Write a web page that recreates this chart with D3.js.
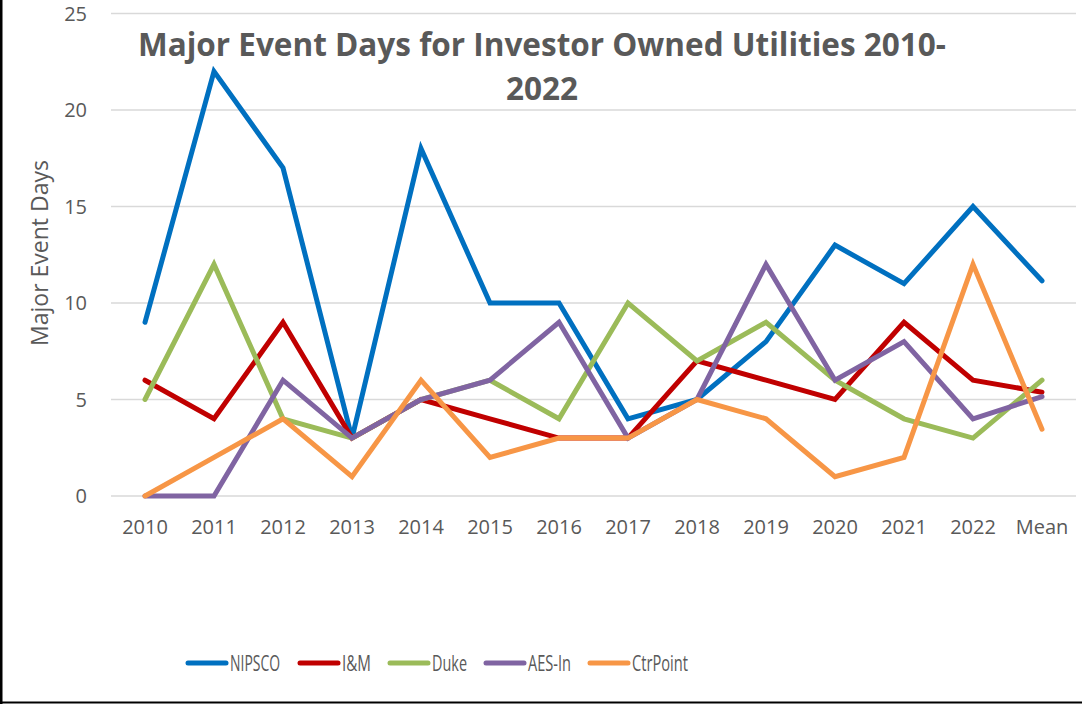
<!DOCTYPE html>
<html>
<head>
<meta charset="utf-8">
<script src="https://cdn.jsdelivr.net/npm/d3@7"></script>
<style>
  body { margin: 0; background: #fff; }
  svg { display: block; }
</style>
</head>
<body>
<div id="chart"></div>
<script>
// categories and series
var years = ["2010", "2011", "2012", "2013", "2014", "2015", "2016", "2017", "2018", "2019", "2020", "2021", "2022", "Mean"];
var seriesNames = ["NIPSCO", "I&M", "Duke", "AES-In", "CtrPoint"];
var nipsco   = [9, 22, 17, 3, 18, 10, 10, 4, 5, 8, 13, 11, 15, 11.15];
var im       = [6, 4, 9, 3, 5, 4, 3, 3, 7, 6, 5, 9, 6, 5.38];
var duke     = [5, 12, 4, 3, 5, 6, 4, 10, 7, 9, 6, 4, 3, 6];
var aes      = [0, 0, 6, 3, 5, 6, 9, 3, 5, 12, 6, 8, 4, 5.15];
var ctrpoint = [0, 2, 4, 1, 6, 2, 3, 3, 5, 4, 1, 2, 12, 3.46];
var yTicks = [0, 5, 10, 15, 20, 25];
var colors = ["#0070C0", "#C00000", "#9BBB59", "#8064A2", "#F79646"];

var allSeries = [nipsco, im, duke, aes, ctrpoint];

var W = 1082, H = 704;
var svg = d3.select("#chart").append("svg")
    .attr("width", W).attr("height", H);

// outer frame (only left and bottom edges show in the picture)
svg.append("line").attr("x1", 1).attr("x2", 1).attr("y1", 0).attr("y2", H)
    .attr("stroke", "#000").attr("stroke-width", 3);
svg.append("line").attr("x1", 0).attr("x2", W).attr("y1", 702.5).attr("y2", 702.5)
    .attr("stroke", "#000").attr("stroke-width", 2);

var x = d3.scalePoint()
    .domain(years)
    .range([110.5, 1076.5])
    .padding(0.5);

var y = d3.scaleLinear()
    .domain([0, 25])
    .range([496, 13.5]);

var textColor = "#595959";
var font = "'Open Sans', sans-serif";

// gridlines
svg.append("g").selectAll("line")
  .data(yTicks)
  .enter().append("line")
    .attr("x1", 111).attr("x2", 1076)
    .attr("y1", function(d) { return y(d); })
    .attr("y2", function(d) { return y(d); })
    .attr("stroke", "#d9d9d9")
    .attr("stroke-width", 1.5);

// y tick labels
svg.append("g").selectAll("text")
  .data(yTicks)
  .enter().append("text")
    .attr("x", 87)
    .attr("y", function(d) { return y(d); })
    .attr("dy", "0.35em")
    .attr("text-anchor", "end")
    .style("font-family", font)
    .style("font-size", "20px")
    .style("fill", textColor)
    .text(function(d) { return d; });

// x tick labels
svg.append("g").selectAll("text")
  .data(years)
  .enter().append("text")
    .attr("x", function(d) { return x(d); })
    .attr("y", 534)
    .attr("text-anchor", "middle")
    .style("font-family", font)
    .style("font-size", "20px")
    .style("fill", textColor)
    .text(function(d) { return d; });

// y axis title
svg.append("text")
    .attr("transform", "translate(48,253) rotate(-90)")
    .attr("text-anchor", "middle")
    .style("font-family", font)
    .style("font-size", "23px")
    .style("fill", textColor)
    .text("Major Event Days");

// title
var title = svg.append("text")
    .attr("text-anchor", "middle")
    .style("font-family", font)
    .style("font-weight", "bold")
    .style("font-size", "31.5px")
    .style("fill", textColor);
title.append("tspan").attr("x", 542).attr("y", 56).text("Major Event Days for Investor Owned Utilities 2010-");
title.append("tspan").attr("x", 542).attr("y", 100).text("2022");

// lines
var line = d3.line()
    .x(function(d, i) { return x(years[i]); })
    .y(function(d) { return y(d); });

svg.append("g").selectAll("path")
  .data(allSeries)
  .enter().append("path")
    .attr("d", function(d) { return line(d); })
    .attr("fill", "none")
    .attr("stroke", function(d, i) { return colors[i]; })
    .attr("stroke-width", 5)
    .attr("stroke-linejoin", "miter")
    .attr("stroke-linecap", "round");

// legend: swatch start and label width of each entry
var legendX = [188, 300, 390, 486, 590];
var legendW = [50, 29, 35, 43, 56];
var legend = svg.append("g").selectAll("g")
  .data(seriesNames)
  .enter().append("g")
    .attr("transform", function(d, i) { return "translate(" + legendX[i] + ",663)"; });
legend.append("line")
    .attr("x1", 0).attr("x2", 38)
    .attr("stroke", function(d, i) { return colors[i]; })
    .attr("stroke-width", 5)
    .attr("stroke-linecap", "round");
legend.append("text")
    .attr("x", 42)
    .attr("dy", "0.36em")
    .attr("textLength", function(d, i) { return legendW[i]; })
    .attr("lengthAdjust", "spacingAndGlyphs")
    .style("font-family", font)
    .style("font-size", "21px")
    .style("fill", textColor)
    .text(function(d) { return d; });
</script>
</body>
</html>
